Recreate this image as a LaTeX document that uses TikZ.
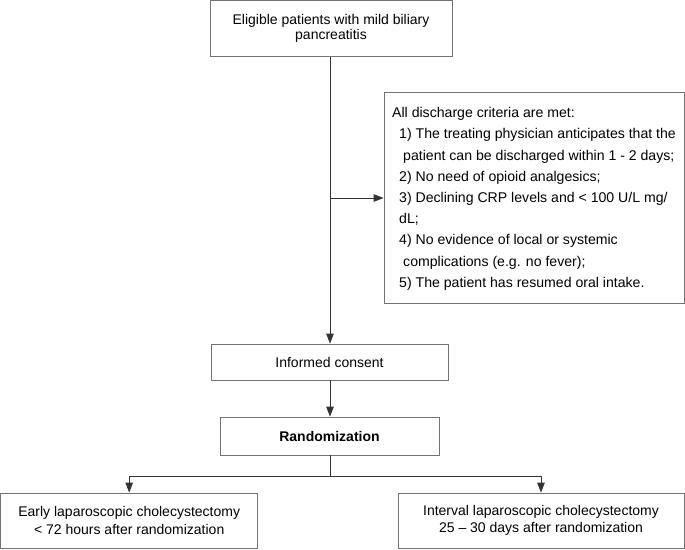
\documentclass[tikz,border=0pt]{standalone}
\usepackage{fontspec}
\setmainfont{Liberation Sans}
\usetikzlibrary{arrows.meta}
\begin{document}
\begin{tikzpicture}[x=1pt,y=-1pt,
  box/.style={draw=black!55,line width=0.8pt,rectangle,inner sep=0pt,align=center,
    font=\fontsize{14}{16}\selectfont},
  conn/.style={draw=black!80,line width=0.8pt},
  arr/.style={conn,-{Triangle[length=10pt,width=7.5pt]}}]
\useasboundingbox (0,0) rectangle (685,549);
\node[box,minimum width=242pt,minimum height=56pt,font=\fontsize{14}{15.5}\selectfont] (top) at (331,28.2) {Eligible patients with mild biliary\\pancreatitis};
\node[box,minimum width=300pt,minimum height=211pt] (crit) at (534,197.5) {};
\node[anchor=north west,inner sep=0pt,align=left,font=\fontsize{14.1}{21.2}\selectfont] (crittext) at (392,107.3)
{All discharge criteria are met:\\
\hspace*{7pt}1) The treating physician anticipates that the\\
\hspace*{11pt}patient can be discharged within 1 - 2 days;\\
\hspace*{7pt}2) No need of opioid analgesics;\\
\hspace*{7pt}3) Declining CRP levels and < 100 U/L mg/\\
\hspace*{7pt}dL;\\
\hspace*{7pt}4) No evidence of local or systemic\\
\hspace*{11pt}complications (e.g. no fever);\\
\hspace*{7pt}5) The patient has resumed oral intake.};
\node[box,minimum width=237pt,minimum height=36pt] (consent) at (329.5,362) {Informed consent};
\node[box,minimum width=219pt,minimum height=38pt,font=\fontsize{14}{16}\selectfont\bfseries] (rand) at (329.5,436) {Randomization};
\node[box,minimum width=257pt,minimum height=55pt,font=\fontsize{14}{17.5}\selectfont] (early) at (129.2,520.5) {Early laparoscopic cholecystectomy\\< 72 hours after randomization};
\node[box,minimum width=286pt,minimum height=55pt,font=\fontsize{14}{17.5}\selectfont] (interval) at (541,520.5) {Interval laparoscopic cholecystectomy\\25 -- 30 days after randomization};
\coordinate (side) at (330,198);
\coordinate (split) at (330,476);
\coordinate (splitL) at (129.2,476);
\coordinate (splitR) at (541,476);
\draw[arr] (top.south -| side) -- (consent.north -| side);
\draw[arr] (side) -- (crit.west |- side);
\draw[arr] (consent.south -| side) -- (rand.north -| side);
\draw[arr] (rand.south -| side) -- (split) -- (splitL) -- (early.north);
\draw[arr] (split) -- (splitR) -- (interval.north);
\end{tikzpicture}
\end{document}
